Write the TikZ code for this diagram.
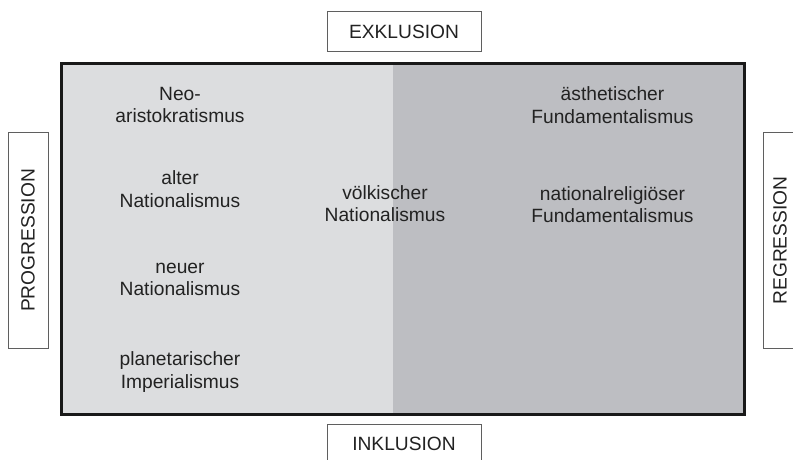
\documentclass[tikz,border=0pt]{standalone}
\usepackage{fontspec}
\setmainfont{Liberation Sans}
\definecolor{leftgray}{RGB}{220,221,223}
\definecolor{rightgray}{RGB}{189,190,194}
\definecolor{textgray}{RGB}{34,34,34}
\definecolor{boxline}{RGB}{95,95,95}
\tikzset{term/.style={align=center, text=textgray, inner sep=0pt, font=\fontsize{9.6}{11.25}\selectfont,
execute at begin node=\strut, execute at end node=\strut},
%boxes round the four directions
axislabel/.style={draw=boxline, line width=0.5pt, text=textgray, inner sep=0pt, font=\fontsize{9.6}{11.25}\selectfont,
minimum width=77pt, minimum height=20pt}}

\begin{document}
\begin{tikzpicture}[x=0.5pt,y=-0.5pt]
\useasboundingbox (0,0) rectangle (793,460);
\clip (0,0) rectangle (793,460);
% field
\fill[leftgray] (61.5,63.5) rectangle (393,414.5);
\fill[rightgray] (393,63.5) rectangle (744,414.5);
\draw[line width=1.5pt, black!90] (61.5,63.5) rectangle (744,414.5);

%directions
\node[axislabel] (exkl) at (404,32) {EXKLUSION};
\node[axislabel] (inkl) at (404,444) {INKLUSION};
\node[axislabel, rotate=90, minimum width=107.5pt] (progr) at (28,240.5) {PROGRESSION};
\node[axislabel, rotate=90, minimum width=107.5pt, minimum height=17pt] (regr) at (780,240.5) {REGRESSION};

%terms
\node[term] (neoaristo) at (180,108.5) {Neo-\\aristokratismus};
\node[term] (alternat) at (180,192.5) {alter\\Nationalismus};
\node[term] (neuernat) at (180,282.5) {neuer\\Nationalismus};
\node[term] (planimp) at (180,373.5) {planetarischer\\Imperialismus};
\node[term] (voelknat) at (385,207) {völkischer\\Nationalismus};
\node[term] (aesthfund) at (612.5,108.5) {ästhetischer\\Fundamentalismus};
\node[term] (relfund) at (612.5,208) {nationalreligiöser\\Fundamentalismus};

\end{tikzpicture}
\end{document}
